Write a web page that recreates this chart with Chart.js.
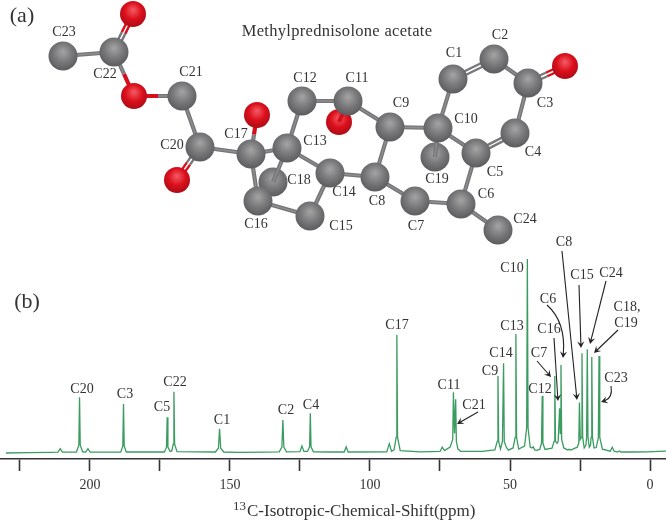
<!DOCTYPE html>
<html lang="en">
<head>
<meta charset="UTF-8">
<title>Methylprednisolone acetate</title>
<script src="https://cdn.jsdelivr.net/npm/chart.js"></script>
<style>
    body { margin: 0; background: #fff; }
    #wrap { width: 666px; height: 521px; }
</style>
</head>
<body>
<div id="wrap"><canvas id="chart" width="666" height="521"></canvas></div>
<script>
// spectrum, one line per peak (ppm / relative intensity)
const specPpm = [
    230, 222, 214,
    211.4, 210.6, 209.8,
    204.8, 203.95, 203.7, 203.45, 202.6,
    201.5, 200.7, 199.9,
    189.0, 188.25, 188.0, 187.75, 187.0,
    173.4, 172.65, 172.4, 172.15, 171.4,
    170.8, 170.25, 170.0, 169.75, 168.9,
    155.2, 154.1, 153.7, 153.3, 152.2,
    147, 138,
    132.4, 131.45, 131.1, 130.75, 129.8,
    125.0, 124.3, 123.6,
    122.3, 121.55, 121.3, 121.05, 120.2,
    114,
    109.2, 108.5, 107.8,
    94.0, 93.1, 92.3,
    91.4, 90.65, 90.4, 90.15, 89.2,
    82,
    75.0, 74.2, 73.4,
    71.4, 70.45, 70.2, 69.8, 69.4, 69.15, 68.6, 67.6,
    60,
    55.4, 54.55, 54.3, 54.05, 53.4,
    52.7, 52.3, 52.05, 51.4, 50.6,
    48.9, 48.15, 47.9, 47.65, 46.9,
    44.8, 44.05, 43.8, 43.55, 42.8,
    42.2, 41.7, 41.2, 40.6,
    39.4, 38.75, 38.5, 38.25, 37.5,
    35.0, 34.25, 34.0, 33.75, 33.2,
    32.8, 32.3, 32.05, 31.8, 31.55, 30.8,
    29.4, 28.9, 28.3,
    26.0, 25.45, 25.2, 24.9,
    24.55, 24.3, 24.05, 23.5,
    22.9, 22.65, 22.4, 22.15, 21.7,
    21.25, 21.05, 20.8, 20.55, 20.0, 19.2,
    18.45, 18.2, 17.95, 17.0,
    14.2, 13.5, 12.8,
    11.6, 11.0, 10.4,
    6, 1, -3, -5.7
];
const specInt = [
    0, 0.2, 0.3,
    0.4, 2.2, 0.4,
    0.5, 4, 28.7, 4, 0.6,
    0.5, 2.2, 0.5,
    0.4, 3.5, 25.3, 3.5, 0.5,
    0.5, 3, 18.4, 3, 0.9,
    1.0, 4.5, 31.6, 4.5, 0.7,
    0.5, 2.5, 12.5, 2.5, 0.5,
    0.3, 0.4,
    0.6, 3, 17, 3, 0.6,
    0.7, 3.6, 0.8,
    0.8, 3.2, 20.5, 3.2, 0.6,
    0.5,
    0.5, 3.2, 0.5,
    0.6, 4.8, 0.9,
    1.6, 8, 61, 8, 1.2,
    0.6,
    0.8, 3, 1.2,
    3, 7, 31.3, 10, 27.7, 6, 2, 0.9,
    0.8,
    1.6, 6, 39.7, 6, 2.0,
    6, 46.2, 6, 3.2, 1.5,
    2.6, 8, 61.3, 8, 2.0,
    3.5, 13, 100, 13, 3.0,
    2.6, 3.2, 1.6, 1.4,
    1.8, 5, 29.4, 5, 1.8,
    2.5, 6, 39.7, 6, 5,
    6, 23, 10, 45.4, 7, 2.6,
    1.5, 1.9, 1.5,
    3.0, 5, 26, 7,
    8, 51.4, 8, 2.6,
    4, 8, 53.5, 8, 3,
    4, 8, 49.5, 8, 2.6, 2.8,
    8, 50, 8, 2.0,
    0.9, 3, 0.9,
    0.5, 1.0, 0.5,
    0.5, 0.6, 0.8, 1.0
];

// x axis
const tickValues = [225, 200, 175, 150, 125, 100, 75, 50, 25, 0];
const tickLabels = [200, 150, 100, 50, 0];

// molecule, picture units
const atomNames = ['C1','C2','C3','C4','C5','C6','C7','C8','C9','C10','C11','C12','C13','C14','C15','C16','C17','C18','C19','C20','C21','C22','C23','C24','O3','O11','O17','O20','O21','O22'];
const atomX = [453,494,528,515,476,461,415,375,390,438,348,302,287,330,310,258,251,273,435,200,182,114,63,498,565,339,257,177,134,133];
const atomY = [79,59,83,133,153,204,201,177,127,128,101,101,148,173,216,201,154,182,157,147,96,52,56,230,66,122,115,180,96,14];
const backAtoms = ['C18','C19','O11'];
const singleBonds = [['C23','C22'],['C22','O21'],['O21','C21'],['C21','C20'],['C20','C17'],['C17','O17'],['C17','C13'],['C17','C16'],['C13','C12'],['C13','C18'],['C13','C14'],['C12','C11'],['C11','C9'],['C11','O11'],['C9','C10'],['C9','C8'],['C8','C14'],['C14','C15'],['C15','C16'],['C10','C1'],['C10','C5'],['C10','C19'],['C2','C3'],['C3','C4'],['C5','C6'],['C6','C7'],['C7','C8'],['C6','C24']];
const doubleBonds = [['C22','O22'],['C20','O20'],['C3','O3'],['C1','C2'],['C4','C5']];

const atomLabels = ['C1','C2','C3','C4','C5','C6','C7','C8','C9','C10','C11','C12','C13','C14','C15','C16','C17','C18','C19','C20','C21','C22','C23','C24'];
const atomLabelX = [454,500,545,533,495,486,416,377,401,466,357,305,315,344,341,256,236,299,437,172,191,105,64,525];
const atomLabelY = [53,35,103,152,172,194,226,201,103,119,78,78,141,192,226,224,134,180,179,145,72,74,32,219];

const peakLabels = ['C20','C3','C5','C22','C1','C2','C4','C17','C11','C21','C9','C14','C13','C10','C7','C12','C16','C6','C8','C15','C24','C18,','C19','C23'];
const peakLabelX = [82,125,162,175,222,286,311,397,449,474,490,501,512,512,539,540,549,548,564,582,611,627,626,616];
const peakLabelY = [389,394,407,382,420,410,405,325,385,405,371,353,326,268,353,389,329,299,242,275,273,307,323,378];

// arrows: 2 points straight, 3 points curved
const arrowPaths = [
    [[537,361],[551,377]],
    [[554,338],[558,401]],
    [[547,305],[566,322],[563,358]],
    [[562,251],[577,400]],
    [[579,285],[581,348]],
    [[606,281],[590,344]],
    [[618,330],[594,353]],
    [[611,386],[613,398],[601,402]],
    [[478,412],[457,424]]
];

const atomXY = name => {
    const i = atomNames.indexOf(name);
    return { x: atomX[i], y: atomY[i] };
};
const gap = { x: NaN, y: NaN };

function bondSegments(a, b, offset) {
    const p = atomXY(a), q = atomXY(b);
    const len = Math.hypot(q.x - p.x, q.y - p.y);
    const nx = -(q.y - p.y) / len * offset, ny = (q.x - p.x) / len * offset;
    const s = { x: p.x + nx, y: p.y + ny }, e = { x: q.x + nx, y: q.y + ny };
    const m = { x: (s.x + e.x) / 2, y: (s.y + e.y) / 2 };
    const aRed = a[0] === 'O', bRed = b[0] === 'O';
    return {
        gray: aRed ? [m, e, gap] : bRed ? [s, m, gap] : [s, e, gap],
        red: aRed ? [s, m, gap] : bRed ? [m, e, gap] : []
    };
}

const thick = singleBonds.map(b => bondSegments(b[0], b[1], 0));
const thin = doubleBonds.flatMap(b => [bondSegments(b[0], b[1], 1.9), bondSegments(b[0], b[1], -1.9)]);

function ballColor(ctx, stops, r) {
    const chart = ctx.chart;
    if (!ctx.raw || !chart.chartArea) return stops[1];
    const x = chart.scales.mx.getPixelForValue(ctx.raw.x);
    const y = chart.scales.my.getPixelForValue(ctx.raw.y);
    const g = chart.ctx.createRadialGradient(x, y - 4, 1, x, y - 2, r + 3);
    g.addColorStop(0, stops[0]);
    g.addColorStop(0.5, stops[1]);
    g.addColorStop(1, stops[2]);
    return g;
}

function atomSet(names, isRed, order) {
    const r = isRed ? 13 : 14.5;
    const stops = isRed ? ['#f0545c', '#dc0f1c', '#a50c16'] : ['#a0a0a0', '#79797b', '#58585a'];
    return {
        data: names.map(atomXY), xAxisID: 'mx', yAxisID: 'my', order: order, clip: false,
        pointRadius: r, pointHoverRadius: r, pointBorderWidth: 0,
        pointBackgroundColor: ctx => ballColor(ctx, stops, r)
    };
}

function bondSet(points, color, width, order) {
    return {
        data: points, xAxisID: 'mx', yAxisID: 'my', order: order, showLine: true,
        pointRadius: 0, borderColor: color, borderWidth: width, borderCapStyle: 'butt'
    };
}

const isBack = n => backAtoms.includes(n);
const isOxy = n => n[0] === 'O';

const labelPlugin = {
    id: 'labels',
    afterDatasetsDraw(chart) {
        const c = chart.ctx, mx = chart.scales.mx, my = chart.scales.my;
        const px = p => [mx.getPixelForValue(p[0]), my.getPixelForValue(p[1])];
        c.save();
        c.fillStyle = '#333';
        c.textAlign = 'center';
        c.textBaseline = 'middle';
        c.font = '14px "Liberation Serif"';
        atomLabels.forEach((t, i) => c.fillText(t, mx.getPixelForValue(atomLabelX[i]), my.getPixelForValue(atomLabelY[i])));
        peakLabels.forEach((t, i) => c.fillText(t, mx.getPixelForValue(peakLabelX[i]), my.getPixelForValue(peakLabelY[i])));
        c.font = '16.5px "Liberation Serif"';
        c.letterSpacing = '0.3px';
        c.fillText('Methylprednisolone acetate', mx.getPixelForValue(337), my.getPixelForValue(32));
        c.letterSpacing = '0px';
        c.font = '22px "Liberation Serif"';
        c.fillText('(a)', mx.getPixelForValue(22), my.getPixelForValue(16));
        c.fillText('(b)', mx.getPixelForValue(27), my.getPixelForValue(302));

        // axis title, 13 raised
        c.textAlign = 'left';
        c.font = '13px "Liberation Serif"';
        c.fillText('13', 233, 507);
        c.font = '17px "Liberation Serif"';
        c.fillText('C-Isotropic-Chemical-Shift(ppm)', 247, 512);

        // arrows with notched heads
        c.strokeStyle = '#222';
        c.fillStyle = '#222';
        c.lineWidth = 1.1;
        arrowPaths.forEach(path => {
            const pts = path.map(px);
            const tip = pts[pts.length - 1], prev = pts[pts.length - 2];
            const ang = Math.atan2(tip[1] - prev[1], tip[0] - prev[0]);
            const back = (d, a) => [tip[0] - d * Math.cos(ang + a), tip[1] - d * Math.sin(ang + a)];
            const end = back(4, 0);
            c.beginPath();
            c.moveTo(pts[0][0], pts[0][1]);
            if (pts.length === 3) c.quadraticCurveTo(pts[1][0], pts[1][1], end[0], end[1]);
            else c.lineTo(end[0], end[1]);
            c.stroke();
            const l = back(7.5, 0.5), r = back(7.5, -0.5);
            c.beginPath();
            c.moveTo(tip[0], tip[1]);
            c.lineTo(l[0], l[1]);
            c.lineTo(end[0], end[1]);
            c.lineTo(r[0], r[1]);
            c.closePath();
            c.fill();
        });
        c.restore();
    }
};

new Chart(document.getElementById('chart'), {
    type: 'scatter',
    data: {
        datasets: [
            atomSet(backAtoms.filter(n => !isOxy(n)), false, 9),
            atomSet(backAtoms.filter(isOxy), true, 9),
            bondSet(thick.flatMap(s => s.gray), '#757577', 4.2, 8),
            bondSet(thick.flatMap(s => s.gray), '#8e8e90', 1.4, 7),
            bondSet(thick.flatMap(s => s.red), '#d5101c', 4.2, 7),
            bondSet(thin.flatMap(s => s.gray), '#78787a', 2.4, 7),
            bondSet(thin.flatMap(s => s.red), '#d5101c', 2.4, 7),
            atomSet(atomNames.filter(n => !isOxy(n) && !isBack(n)), false, 5),
            atomSet(atomNames.filter(n => isOxy(n) && !isBack(n)), true, 5),
            {
                data: specPpm.map((p, i) => ({ x: p, y: specInt[i] })),
                xAxisID: 'x', yAxisID: 'y', order: 1, showLine: true,
                pointRadius: 0, borderColor: '#3a9c60', borderWidth: 1.3, tension: 0
            }
        ]
    },
    options: {
        responsive: false,
        animation: false,
        layout: { padding: 0, autoPadding: false },
        plugins: { legend: { display: false }, tooltip: { enabled: false } },
        scales: {
            x: {
                type: 'linear',
                reverse: true,
                min: -5.7,
                max: 232.1,
                position: 'bottom',
                afterBuildTicks: scale => { scale.ticks = tickValues.map(v => ({ value: v })); },
                afterFit: scale => { scale.height = 62; },
                border: { display: true, color: '#333', width: 1.6 },
                grid: { drawOnChartArea: false, drawTicks: true, tickLength: 12, tickWidth: 1.6, tickColor: '#333' },
                ticks: {
                    autoSkip: false, maxRotation: 0, padding: 6, color: '#333',
                    font: { family: 'Liberation Serif', size: 14 },
                    callback: v => tickLabels.includes(v) ? String(v) : ''
                }
            },
            y: { type: 'linear', display: false, min: -3.1, max: 233.5 },
            mx: { type: 'linear', display: false, min: 0, max: 666 },
            my: { type: 'linear', display: false, reverse: true, min: 0, max: 459 }
        }
    },
    plugins: [labelPlugin]
});
</script>
</body>
</html>
